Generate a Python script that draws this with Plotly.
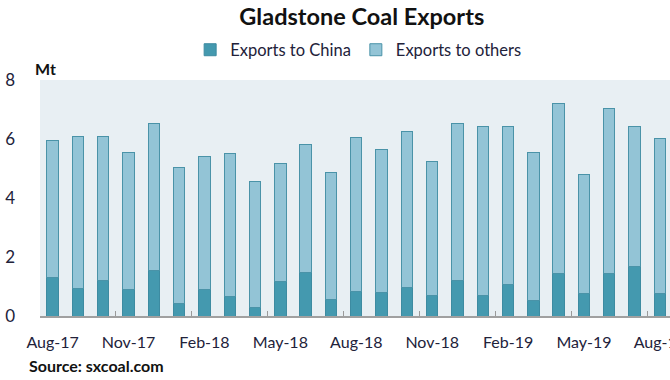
import plotly.graph_objects as go

months = ["Aug-17", "Sep-17", "Oct-17", "Nov-17", "Dec-17", "Jan-18", "Feb-18", "Mar-18",
          "Apr-18", "May-18", "Jun-18", "Jul-18", "Aug-18", "Sep-18", "Oct-18", "Nov-18",
          "Dec-18", "Jan-19", "Feb-19", "Mar-19", "Apr-19", "May-19", "Jun-19", "Jul-19", "Aug-19"]
china = [1.29, 0.93, 1.21, 0.90, 1.54, 0.42, 0.90, 0.66, 0.28, 1.17, 1.49, 0.56, 0.84,
         0.80, 0.97, 0.69, 1.21, 0.69, 1.07, 0.51, 1.44, 0.75, 1.44, 1.68, 0.75]
totals = [5.96, 6.10, 6.10, 5.55, 6.51, 5.05, 5.41, 5.50, 4.57, 5.17, 5.81, 4.85, 6.05,
          5.64, 6.24, 5.23, 6.51, 6.42, 6.42, 5.54, 7.21, 4.80, 7.02, 6.42, 6.01]
others = [round(t - c, 2) for t, c in zip(totals, china)]

FONT = "Lato"
TXT = "#22223a"

fig = go.Figure()
fig.add_bar(x=months, y=china, name="Exports to China",
            marker=dict(color="#4499AF", line=dict(color="#3D8BA1", width=1)))
fig.add_bar(x=months, y=others, name="Exports to others",
            marker=dict(color="#93C4D6", line=dict(color="#4A93A8", width=1)))

fig.update_layout(
    barmode="stack",
    bargap=0.55,
    width=670, height=380,
    margin=dict(l=40, r=0, t=80, b=64, autoexpand=False),
    paper_bgcolor="white",
    plot_bgcolor="#E8EFF3",
    font=dict(family=FONT, size=14, color=TXT),
    title=dict(text="<b>Gladstone Coal Exports</b>", x=0.54, xanchor="center",
               xref="container", yref="container",
               y=1 - 17 / 380, yanchor="middle", font=dict(family=FONT, size=23.5, color="#111111")),
    legend=dict(orientation="h", x=0.505, xanchor="center", y=1 - 50 / 380, yref="container",
                yanchor="middle", font=dict(family=FONT, size=16.5, color=TXT),
                itemwidth=30, traceorder="normal", bgcolor="rgba(0,0,0,0)"),
    showlegend=True,
)
fig.update_xaxes(
    type="category", range=[-0.5, 24.4], tickmode="linear", tick0=0, dtick=3,
    tickson="boundaries", ticks="inside", ticklen=5, tickcolor="#9a9a9a",
    showline=True, linecolor="#a0a0a0", linewidth=2, showgrid=False,
    ticklabeloverflow="allow", automargin=False, tickangle=0, ticklabelstandoff=11,
    tickfont=dict(family=FONT, size=16, color=TXT),
)
fig.update_yaxes(
    range=[0, 8], tickvals=[0, 2, 4, 6, 8], showgrid=False, zeroline=False,
    showline=False, ticklabelstandoff=24, automargin=False,
    tickfont=dict(family=FONT, size=17, color=TXT),
)
fig.add_annotation(text="<b>Mt</b>", xref="paper", yref="paper", x=-0.011, y=1.0,
                   xanchor="left", yanchor="middle", yshift=12, showarrow=False,
                   font=dict(family=FONT, size=16, color="#111111"))
fig.add_annotation(text="<b>Source: sxcoal.com</b>", xref="paper", yref="paper",
                   x=-0.021, y=0, xanchor="left", yanchor="middle", yshift=-49,
                   showarrow=False, font=dict(family=FONT, size=16, color="#111111"))

fig.write_html("out.html", config={"displayModeBar": False},
               post_script="document.body.style.margin='0';")
